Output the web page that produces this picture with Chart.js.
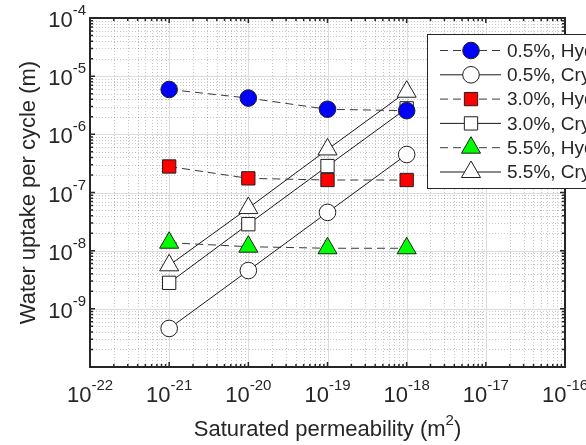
<!DOCTYPE html>
<html>
<head>
<meta charset="utf-8">
<script src="https://cdn.jsdelivr.net/npm/chart.js@4/dist/chart.umd.min.js"></script>
<style>
  html, body { margin: 0; padding: 0; background: #fff; }
  #wrap { width: 586px; height: 445px; }
</style>
</head>
<body>
<div id="wrap"><canvas id="chart" width="586" height="445"></canvas></div>
<script>
// permeability (m^2) on x, water uptake per cycle (m) on y
const permeability = [1e-21, 1e-20, 1e-19, 1e-18];
const hyd05 = [5.9e-6, 4.2e-6, 2.7e-6, 2.55e-6];
const cry05 = [4.6e-10, 4.55e-9, 4.55e-8, 4.5e-7];
const hyd30 = [2.8e-7, 1.75e-7, 1.64e-7, 1.64e-7];
const cry30 = [2.8e-9, 2.85e-8, 2.85e-7, 2.8e-6];
const hyd55 = [1.37e-8, 1.17e-8, 1.1e-8, 1.1e-8];
const cry55 = [5.6e-9, 5.4e-8, 5.5e-7, 5.4e-6];
const seriesLabels = ['0.5%, Hydraulic', '0.5%, Cryosuction', '3.0%, Hydraulic',
                      '3.0%, Cryosuction', '5.5%, Hydraulic', '5.5%, Cryosuction'];

const xDecades = [-22, -21, -20, -19, -18, -17, -16];
const yDecades = [-10, -9, -8, -7, -6, -5, -4];
const yLabelDecades = [-9, -8, -7, -6, -5, -4];
const xTitle = 'Saturated permeability (m';
const yTitle = 'Water uptake per cycle (m)';

const FONT = "'Liberation Sans', Arial, Helvetica, sans-serif";
const INK = '#262626';

const pts = ys => permeability.map((x, i) => ({ x: x, y: ys[i] }));

function series(label, ys, style, radius, fill, dashed) {
  return {
    label: label,
    data: pts(ys),
    showLine: true,
    borderColor: dashed ? '#3a3a3a' : '#1a1a1a',
    borderWidth: 1,
    borderDash: dashed ? [8, 5] : [],
    pointStyle: style,
    pointRadius: radius,
    pointHoverRadius: radius,
    pointBackgroundColor: fill,
    pointBorderColor: '#1f1f1f',
    pointBorderWidth: 1,
  };
}

const datasets = [
  series(seriesLabels[0], hyd05, 'circle', 8.3, '#0000ff', true),
  series(seriesLabels[1], cry05, 'circle', 8.3, '#ffffff', false),
  series(seriesLabels[2], hyd30, 'rect', 9.4, '#ff0000', true),
  series(seriesLabels[3], cry30, 'rect', 9.4, '#ffffff', false),
  series(seriesLabels[4], hyd55, 'triangle', 11, '#00ff00', true),
  series(seriesLabels[5], cry55, 'triangle', 11, '#ffffff', false),
];

const minorValues = decades => {
  const out = [];
  for (let i = 0; i < decades.length - 1; i++) {
    for (let k = 2; k <= 9; k++) out.push(k * Math.pow(10, decades[i]));
  }
  return out;
};
const majorValues = decades => decades.map(d => Math.pow(10, d));

// 10 with superscript exponent
function drawPow(ctx, exp, x, y, align) {
  const base = '10', sup = String(exp);
  ctx.font = '22px ' + FONT;
  const wb = ctx.measureText(base).width;
  ctx.font = '15px ' + FONT;
  const ws = ctx.measureText(sup).width;
  const left = align === 'center' ? x - (wb + ws) / 2 : x - (wb + ws);
  ctx.textAlign = 'left';
  ctx.textBaseline = 'alphabetic';
  ctx.font = '22px ' + FONT;
  ctx.fillText(base, left, y);
  ctx.font = '15px ' + FONT;
  ctx.fillText(sup, left + wb, y - 12);
}

function marker(ctx, style, x, y, r) {
  ctx.beginPath();
  if (style === 'circle') {
    ctx.arc(x, y, r, 0, Math.PI * 2);
  } else if (style === 'rect') {
    const s = r * Math.SQRT1_2;
    ctx.rect(x - s, y - s, 2 * s, 2 * s);
  } else {
    ctx.moveTo(x, y - r);
    ctx.lineTo(x + 0.866 * r, y + 0.5 * r);
    ctx.lineTo(x - 0.866 * r, y + 0.5 * r);
    ctx.closePath();
  }
  ctx.fill();
  ctx.stroke();
}

const gridPlugin = {
  id: 'matlabGrid',
  beforeDraw(chart) {
    const ctx = chart.ctx;
    ctx.save();
    ctx.fillStyle = '#ffffff';
    ctx.fillRect(0, 0, chart.width, chart.height);
    ctx.restore();
  },
  beforeDatasetsDraw(chart) {
    const { ctx, chartArea: a, scales: { x, y } } = chart;
    ctx.save();
    ctx.beginPath();
    ctx.rect(a.left, a.top, a.right - a.left, a.bottom - a.top);
    ctx.clip();
    ctx.lineWidth = 1;
    ctx.strokeStyle = 'rgba(0,0,0,0.22)';
    ctx.setLineDash([1, 2]);
    ctx.beginPath();
    minorValues(xDecades).forEach(v => {
      const px = Math.round(x.getPixelForValue(v)) + 0.5;
      ctx.moveTo(px, a.top); ctx.lineTo(px, a.bottom);
    });
    minorValues(yDecades).forEach(v => {
      const py = Math.round(y.getPixelForValue(v)) + 0.5;
      ctx.moveTo(a.left, py); ctx.lineTo(a.right, py);
    });
    ctx.stroke();
    ctx.setLineDash([]);
    ctx.strokeStyle = '#dcdcdc';
    ctx.beginPath();
    majorValues(xDecades).forEach(v => {
      const px = Math.round(x.getPixelForValue(v)) + 0.5;
      ctx.moveTo(px, a.top); ctx.lineTo(px, a.bottom);
    });
    majorValues(yDecades).forEach(v => {
      const py = Math.round(y.getPixelForValue(v)) + 0.5;
      ctx.moveTo(a.left, py); ctx.lineTo(a.right, py);
    });
    ctx.stroke();
    ctx.restore();
  },
  afterDatasetsDraw(chart) {
    const { ctx, chartArea: a, scales: { x, y } } = chart;
    ctx.save();
    ctx.strokeStyle = INK;
    ctx.fillStyle = INK;

    // ticks inside the box, all four sides
    ctx.lineWidth = 1.5;
    ctx.beginPath();
    const tickX = (v, len) => {
      const px = x.getPixelForValue(v);
      ctx.moveTo(px, a.bottom); ctx.lineTo(px, a.bottom - len);
      ctx.moveTo(px, a.top); ctx.lineTo(px, a.top + len);
    };
    const tickY = (v, len) => {
      const py = y.getPixelForValue(v);
      ctx.moveTo(a.left, py); ctx.lineTo(a.left + len, py);
      ctx.moveTo(a.right, py); ctx.lineTo(a.right - len, py);
    };
    minorValues(xDecades).forEach(v => tickX(v, 3));
    majorValues(xDecades).forEach(v => tickX(v, 5));
    minorValues(yDecades).forEach(v => tickY(v, 3));
    majorValues(yDecades).forEach(v => tickY(v, 5));
    ctx.stroke();

    ctx.lineWidth = 2;
    ctx.strokeRect(a.left, a.top, a.right - a.left, a.bottom - a.top);

    // tick labels
    xDecades.forEach(d => drawPow(ctx, d, x.getPixelForValue(Math.pow(10, d)), a.bottom + 35, 'center'));
    yLabelDecades.forEach(d => drawPow(ctx, d, a.left - 4, y.getPixelForValue(Math.pow(10, d)) + 9, 'right'));

    // axis titles
    ctx.font = '22px ' + FONT;
    const wt = ctx.measureText(xTitle).width;
    ctx.font = '15px ' + FONT;
    const w2 = ctx.measureText('2').width;
    ctx.font = '22px ' + FONT;
    const wp = ctx.measureText(')').width;
    const cx = (a.left + a.right) / 2;
    const left = cx - (wt + w2 + wp) / 2;
    const base = 436;
    ctx.textAlign = 'left';
    ctx.fillText(xTitle, left, base);
    ctx.font = '15px ' + FONT;
    ctx.fillText('2', left + wt, base - 11);
    ctx.font = '22px ' + FONT;
    ctx.fillText(')', left + wt + w2, base);

    ctx.save();
    ctx.translate(29, (a.top + a.bottom) / 2);
    ctx.rotate(-Math.PI / 2);
    ctx.textAlign = 'center';
    ctx.textBaseline = 'middle';
    ctx.fillText(yTitle, 0, 0);
    ctx.restore();

    // legend
    const lx = 427, ly = 34, lw = 220, lh = 154;
    ctx.fillStyle = '#ffffff';
    ctx.fillRect(lx, ly, lw, lh);
    ctx.lineWidth = 1;
    ctx.strokeStyle = INK;
    ctx.strokeRect(lx + 0.5, ly + 0.5, lw, lh);
    chart.data.datasets.forEach((ds, i) => {
      const ry = 50.5 + i * 24.3;
      ctx.strokeStyle = ds.borderColor;
      ctx.lineWidth = 1;
      ctx.setLineDash(ds.borderDash);
      ctx.beginPath();
      ctx.moveTo(440, ry); ctx.lineTo(501, ry);
      ctx.stroke();
      ctx.setLineDash([]);
      ctx.fillStyle = ds.pointBackgroundColor;
      ctx.strokeStyle = ds.pointBorderColor;
      marker(ctx, ds.pointStyle, 471, ry, ds.pointRadius);
      ctx.fillStyle = INK;
      ctx.font = '19px ' + FONT;
      ctx.textAlign = 'left';
      ctx.textBaseline = 'middle';
      ctx.fillText(ds.label, 507, ry + 1);
    });
    ctx.restore();
  }
};

new Chart(document.getElementById('chart'), {
  type: 'scatter',
  data: { datasets: datasets },
  options: {
    responsive: false,
    animation: false,
    devicePixelRatio: 1,
    layout: { padding: { left: 90, right: 21, top: 18, bottom: 78 } },
    scales: {
      x: { type: 'logarithmic', min: 1e-22, max: 1e-16, display: false },
      y: { type: 'logarithmic', min: 1e-10, max: 1e-4, display: false },
    },
    plugins: { legend: { display: false }, tooltip: { enabled: false } },
  },
  plugins: [gridPlugin],
});
</script>
</body>
</html>
